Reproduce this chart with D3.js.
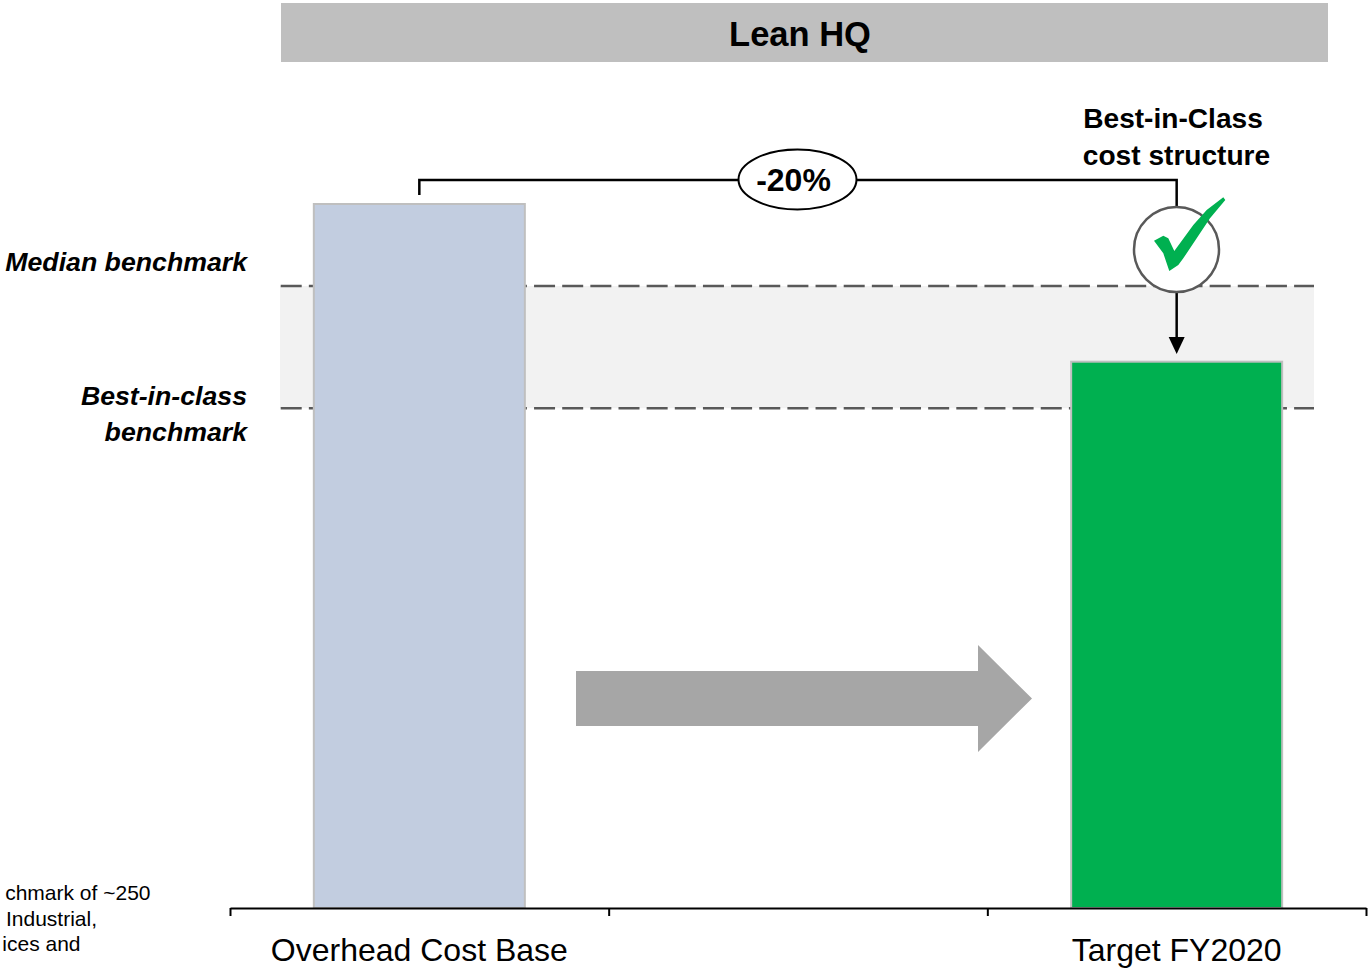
<!DOCTYPE html>
<html>
<head>
<meta charset="utf-8">
<script src="https://cdn.jsdelivr.net/npm/d3@7"></script>
<style>
  html, body { margin: 0; padding: 0; background: #fff; overflow: hidden; }
  svg { display: block; }
  text { font-family: "Liberation Sans", Arial, sans-serif; }
</style>
</head>
<body>
<svg id="chart" width="1371" height="972"></svg>
<script>
// Overhead cost, indexed to the current base = 100
const categories = ["Overhead Cost Base", "", "Target FY2020"];
const costValues = [100, null, 77.6];
const medianBenchmark = 88.35;
const bestInClassBenchmark = 71;
const barFills = ["#c2cde0", null, "#00b050"];
const panelTitle = "Lean HQ";
const reductionLabel = "-20%";
const targetNote = ["Best-in-Class", "cost structure"];
const footnoteFragments = ["chmark of ~250", "Industrial,", "ices and"];

const svg = d3.select("#chart");
const baseY = 908, topY = 204;

const x = d3.scaleBand().domain(categories.map((d, i) => i)).range([230, 1366]).paddingInner(0).paddingOuter(0);
const y = d3.scaleLinear().domain([0, 100]).range([baseY, topY]);
const barWidth = 211;
const cx = i => x(i) + x.bandwidth() / 2;

// Title banner
svg.append("rect").attr("x", 281).attr("y", 3).attr("width", 1047).attr("height", 59).attr("fill", "#bfbfbf");
svg.append("text").attr("x", 800).attr("y", 46).attr("text-anchor", "middle")
  .attr("font-size", 34.5).attr("font-weight", "bold").attr("fill", "#000").text(panelTitle);

// Benchmark band with its dashed limits
svg.append("rect").attr("x", 280).attr("width", 1034)
  .attr("y", y(medianBenchmark)).attr("height", y(bestInClassBenchmark) - y(medianBenchmark))
  .attr("fill", "#f2f2f2");
svg.selectAll("line.benchmark").data([medianBenchmark, bestInClassBenchmark]).join("line")
  .attr("class", "benchmark")
  .attr("x1", 280.7).attr("x2", 1314)
  .attr("y1", d => y(d)).attr("y2", d => y(d))
  .attr("stroke", "#595959").attr("stroke-width", 2.5).attr("stroke-dasharray", "21 7.15");

// Bars
svg.selectAll("rect.bar").data(costValues.map((v, i) => ({ v, i })).filter(d => d.v !== null)).join("rect")
  .attr("class", "bar")
  .attr("x", d => cx(d.i) - barWidth / 2)
  .attr("width", barWidth)
  .attr("y", d => y(d.v))
  .attr("height", d => baseY - y(d.v))
  .attr("fill", d => barFills[d.i])
  .attr("stroke", "#bfbfbf").attr("stroke-width", 2);

// Category axis with ticks on the band edges
const edges = d3.range(categories.length + 1).map(i => 230 + i * x.step());
const axis = d3.axisBottom(d3.scaleLinear().domain([230, 1366]).range([230, 1366]))
  .tickValues(edges).tickSize(8).tickSizeOuter(0).tickFormat("");
const axisG = svg.append("g").attr("transform", `translate(0,${baseY})`).call(axis);
axisG.select(".domain").attr("stroke", "#000").attr("stroke-width", 2);
axisG.selectAll(".tick line").attr("stroke", "#000").attr("stroke-width", 2);
svg.selectAll("text.cat").data(categories).join("text")
  .attr("class", "cat")
  .attr("x", (d, i) => cx(i)).attr("y", 961).attr("text-anchor", "middle")
  .attr("font-size", 32).attr("fill", "#000").text(d => d);

// Transition arrow between the bars
const mid = cx(1);
svg.append("path")
  .attr("d", `M${mid - 222},671H${mid + 180}V645L${mid + 234},698.5L${mid + 180},752V726H${mid - 222}Z`)
  .attr("fill", "#a6a6a6");

// Reduction bracket
const bracketY = 180;
svg.append("path")
  .attr("d", `M${cx(0)},195V${bracketY}H${cx(2)}V207`)
  .attr("fill", "none").attr("stroke", "#000").attr("stroke-width", 2.5);
svg.append("ellipse").attr("cx", 797.5).attr("cy", 179.5).attr("rx", 59).attr("ry", 30)
  .attr("fill", "#fff").attr("stroke", "#000").attr("stroke-width", 2);
svg.append("text").attr("x", 793.5).attr("y", 191).attr("text-anchor", "middle")
  .attr("font-size", 32).attr("font-weight", "bold").text(reductionLabel);

// Note above the target bar
svg.selectAll("text.note").data(targetNote).join("text")
  .attr("class", "note")
  .attr("x", (d, i) => i ? 1176.5 : 1173).attr("y", (d, i) => 128 + i * 37)
  .attr("text-anchor", "middle").attr("font-size", 28.1).attr("font-weight", "bold").text(d => d);

// Pointer from the check badge down to the target bar
svg.append("line").attr("x1", cx(2)).attr("x2", cx(2)).attr("y1", 292).attr("y2", 340)
  .attr("stroke", "#000").attr("stroke-width", 2.5);
svg.append("path").attr("d", `M${cx(2) - 8},337H${cx(2) + 8}L${cx(2)},354Z`).attr("fill", "#000");

// Check badge
svg.append("circle").attr("cx", 1176.5).attr("cy", 249.5).attr("r", 42.5)
  .attr("fill", "#fff").attr("stroke", "#595959").attr("stroke-width", 2.5);
svg.append("path")
  .attr("d", "M1154,240.7L1163.3,235.7L1168.3,238.3L1174.3,251L1193.3,225L1206.7,210L1223.3,197.3L1225.3,200L1210,218.3L1196.7,238.3L1183.3,258.3L1178.3,265L1169.3,271L1163.3,253.3Z")
  .attr("fill", "#00b050");

// Benchmark captions
const caption = (t, yy) => svg.append("text").attr("x", 247).attr("y", yy).attr("text-anchor", "end")
  .attr("font-size", 26.7).attr("font-weight", "bold").attr("font-style", "italic").attr("fill", "#000").text(t);
caption("Median benchmark", 271);
caption("Best-in-class", 405);
caption("benchmark", 441);

// Footnote fragments at the left edge
svg.selectAll("text.foot").data(footnoteFragments).join("text")
  .attr("class", "foot")
  .attr("x", (d, i) => [150.5, 97, 80.5][i]).attr("y", (d, i) => 900 + i * 25.5)
  .attr("text-anchor", "end").attr("font-size", 21).attr("fill", "#000").text(d => d);
</script>
</body>
</html>
